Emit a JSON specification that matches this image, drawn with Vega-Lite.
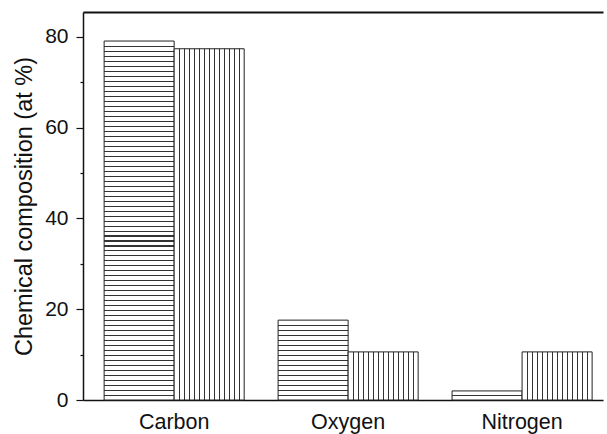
{
  "$schema": "https://vega.github.io/schema/vega-lite/v6.json",
  "autosize": "none",
  "width": 520,
  "height": 388,
  "padding": {"left": 83, "top": 12, "right": 4, "bottom": 34},
  "background": "white",
  "config": {
    "view": {"stroke": null},
    "axis": {"grid": false, "domainColor": "#111", "tickColor": "#111", "labelColor": "#111", "titleColor": "#111", "labelFont": "Liberation Sans", "titleFont": "Liberation Sans", "domainWidth": 1.5, "tickWidth": 1.2}
  },
  "data": {"values": [
    {"el": "Carbon", "s": "A", "v": 79.1},
    {"el": "Carbon", "s": "B", "v": 77.4},
    {"el": "Oxygen", "s": "A", "v": 17.6},
    {"el": "Oxygen", "s": "B", "v": 10.6},
    {"el": "Nitrogen", "s": "A", "v": 2.0},
    {"el": "Nitrogen", "s": "B", "v": 10.6}
  ]},
  "layer": [
    {
      "mark": {"type": "bar", "stroke": "#222", "strokeWidth": 1},
      "encoding": {
        "x": {"field": "el", "type": "nominal", "sort": ["Carbon", "Oxygen", "Nitrogen"],
          "scale": {"paddingInner": 0.195, "paddingOuter": 0.092, "align": 0.66},
          "axis": {"orient": "bottom", "title": null, "ticks": false, "labelAngle": 0, "labelFontSize": 21.5, "labelPadding": 11}},
        "xOffset": {"field": "s", "type": "nominal", "scale": {"paddingInner": 0, "paddingOuter": 0}},
        "y": {"field": "v", "type": "quantitative", "scale": {"domain": [0, 85.5], "nice": false},
          "axis": {"title": "Chemical composition (at %)", "titleFontSize": 23.5, "titleFontWeight": "normal", "titlePadding": 8,
            "values": [0, 10, 20, 30, 40, 50, 60, 70, 80],
            "labelExpr": "datum.value % 20 === 0 ? datum.label : ''",
            "tickSize": {"condition": {"test": "datum.value % 20 === 0", "value": 7}, "value": 3},
            "labelFontSize": 21, "labelPadding": 8}},
        "fill": {
          "condition": [
            {"test": "datum.s === 'B'", "value": {"gradient": "linear", "x1": 0, "y1": 0, "x2": 1, "y2": 0, "stops": [
              {"offset": 0, "color": "#fff"},
              {"offset": 0.0714, "color": "#fff"}, {"offset": 0.0714, "color": "#333"}, {"offset": 0.0857, "color": "#333"}, {"offset": 0.0857, "color": "#fff"},
              {"offset": 0.1429, "color": "#fff"}, {"offset": 0.1429, "color": "#333"}, {"offset": 0.1572, "color": "#333"}, {"offset": 0.1572, "color": "#fff"},
              {"offset": 0.2143, "color": "#fff"}, {"offset": 0.2143, "color": "#333"}, {"offset": 0.2286, "color": "#333"}, {"offset": 0.2286, "color": "#fff"},
              {"offset": 0.2857, "color": "#fff"}, {"offset": 0.2857, "color": "#333"}, {"offset": 0.3, "color": "#333"}, {"offset": 0.3, "color": "#fff"},
              {"offset": 0.3571, "color": "#fff"}, {"offset": 0.3571, "color": "#333"}, {"offset": 0.3714, "color": "#333"}, {"offset": 0.3714, "color": "#fff"},
              {"offset": 0.4286, "color": "#fff"}, {"offset": 0.4286, "color": "#333"}, {"offset": 0.4429, "color": "#333"}, {"offset": 0.4429, "color": "#fff"},
              {"offset": 0.5, "color": "#fff"}, {"offset": 0.5, "color": "#333"}, {"offset": 0.5143, "color": "#333"}, {"offset": 0.5143, "color": "#fff"},
              {"offset": 0.5714, "color": "#fff"}, {"offset": 0.5714, "color": "#333"}, {"offset": 0.5857, "color": "#333"}, {"offset": 0.5857, "color": "#fff"},
              {"offset": 0.6429, "color": "#fff"}, {"offset": 0.6429, "color": "#333"}, {"offset": 0.6572, "color": "#333"}, {"offset": 0.6572, "color": "#fff"},
              {"offset": 0.7143, "color": "#fff"}, {"offset": 0.7143, "color": "#333"}, {"offset": 0.7286, "color": "#333"}, {"offset": 0.7286, "color": "#fff"},
              {"offset": 0.7857, "color": "#fff"}, {"offset": 0.7857, "color": "#333"}, {"offset": 0.8, "color": "#333"}, {"offset": 0.8, "color": "#fff"},
              {"offset": 0.8571, "color": "#fff"}, {"offset": 0.8571, "color": "#333"}, {"offset": 0.8714, "color": "#333"}, {"offset": 0.8714, "color": "#fff"},
              {"offset": 0.9286, "color": "#fff"}, {"offset": 0.9286, "color": "#333"}, {"offset": 0.9429, "color": "#333"}, {"offset": 0.9429, "color": "#fff"},
              {"offset": 1, "color": "#fff"}
            ]}},
            {"test": "datum.el === 'Carbon'", "value": {"gradient": "linear", "x1": 0, "y1": 0, "x2": 0, "y2": 1, "stops": [
              {"offset": 0, "color": "#fff"},
              {"offset": 0.0139, "color": "#fff"}, {"offset": 0.0139, "color": "#333"}, {"offset": 0.0169, "color": "#333"}, {"offset": 0.0169, "color": "#fff"},
              {"offset": 0.0278, "color": "#fff"}, {"offset": 0.0278, "color": "#333"}, {"offset": 0.0308, "color": "#333"}, {"offset": 0.0308, "color": "#fff"},
              {"offset": 0.0417, "color": "#fff"}, {"offset": 0.0417, "color": "#333"}, {"offset": 0.0447, "color": "#333"}, {"offset": 0.0447, "color": "#fff"},
              {"offset": 0.0556, "color": "#fff"}, {"offset": 0.0556, "color": "#333"}, {"offset": 0.0586, "color": "#333"}, {"offset": 0.0586, "color": "#fff"},
              {"offset": 0.0694, "color": "#fff"}, {"offset": 0.0694, "color": "#333"}, {"offset": 0.0724, "color": "#333"}, {"offset": 0.0724, "color": "#fff"},
              {"offset": 0.0833, "color": "#fff"}, {"offset": 0.0833, "color": "#333"}, {"offset": 0.0863, "color": "#333"}, {"offset": 0.0863, "color": "#fff"},
              {"offset": 0.0972, "color": "#fff"}, {"offset": 0.0972, "color": "#333"}, {"offset": 0.1002, "color": "#333"}, {"offset": 0.1002, "color": "#fff"},
              {"offset": 0.1111, "color": "#fff"}, {"offset": 0.1111, "color": "#333"}, {"offset": 0.1141, "color": "#333"}, {"offset": 0.1141, "color": "#fff"},
              {"offset": 0.125, "color": "#fff"}, {"offset": 0.125, "color": "#333"}, {"offset": 0.128, "color": "#333"}, {"offset": 0.128, "color": "#fff"},
              {"offset": 0.1389, "color": "#fff"}, {"offset": 0.1389, "color": "#333"}, {"offset": 0.1419, "color": "#333"}, {"offset": 0.1419, "color": "#fff"},
              {"offset": 0.1528, "color": "#fff"}, {"offset": 0.1528, "color": "#333"}, {"offset": 0.1558, "color": "#333"}, {"offset": 0.1558, "color": "#fff"},
              {"offset": 0.1667, "color": "#fff"}, {"offset": 0.1667, "color": "#333"}, {"offset": 0.1697, "color": "#333"}, {"offset": 0.1697, "color": "#fff"},
              {"offset": 0.1806, "color": "#fff"}, {"offset": 0.1806, "color": "#333"}, {"offset": 0.1836, "color": "#333"}, {"offset": 0.1836, "color": "#fff"},
              {"offset": 0.1944, "color": "#fff"}, {"offset": 0.1944, "color": "#333"}, {"offset": 0.1974, "color": "#333"}, {"offset": 0.1974, "color": "#fff"},
              {"offset": 0.2083, "color": "#fff"}, {"offset": 0.2083, "color": "#333"}, {"offset": 0.2113, "color": "#333"}, {"offset": 0.2113, "color": "#fff"},
              {"offset": 0.2222, "color": "#fff"}, {"offset": 0.2222, "color": "#333"}, {"offset": 0.2252, "color": "#333"}, {"offset": 0.2252, "color": "#fff"},
              {"offset": 0.2361, "color": "#fff"}, {"offset": 0.2361, "color": "#333"}, {"offset": 0.2391, "color": "#333"}, {"offset": 0.2391, "color": "#fff"},
              {"offset": 0.25, "color": "#fff"}, {"offset": 0.25, "color": "#333"}, {"offset": 0.253, "color": "#333"}, {"offset": 0.253, "color": "#fff"},
              {"offset": 0.2639, "color": "#fff"}, {"offset": 0.2639, "color": "#333"}, {"offset": 0.2669, "color": "#333"}, {"offset": 0.2669, "color": "#fff"},
              {"offset": 0.2778, "color": "#fff"}, {"offset": 0.2778, "color": "#333"}, {"offset": 0.2808, "color": "#333"}, {"offset": 0.2808, "color": "#fff"},
              {"offset": 0.2917, "color": "#fff"}, {"offset": 0.2917, "color": "#333"}, {"offset": 0.2947, "color": "#333"}, {"offset": 0.2947, "color": "#fff"},
              {"offset": 0.3056, "color": "#fff"}, {"offset": 0.3056, "color": "#333"}, {"offset": 0.3086, "color": "#333"}, {"offset": 0.3086, "color": "#fff"},
              {"offset": 0.3194, "color": "#fff"}, {"offset": 0.3194, "color": "#333"}, {"offset": 0.3224, "color": "#333"}, {"offset": 0.3224, "color": "#fff"},
              {"offset": 0.3333, "color": "#fff"}, {"offset": 0.3333, "color": "#333"}, {"offset": 0.3363, "color": "#333"}, {"offset": 0.3363, "color": "#fff"},
              {"offset": 0.3472, "color": "#fff"}, {"offset": 0.3472, "color": "#333"}, {"offset": 0.3502, "color": "#333"}, {"offset": 0.3502, "color": "#fff"},
              {"offset": 0.3611, "color": "#fff"}, {"offset": 0.3611, "color": "#333"}, {"offset": 0.3641, "color": "#333"}, {"offset": 0.3641, "color": "#fff"},
              {"offset": 0.375, "color": "#fff"}, {"offset": 0.375, "color": "#333"}, {"offset": 0.378, "color": "#333"}, {"offset": 0.378, "color": "#fff"},
              {"offset": 0.3889, "color": "#fff"}, {"offset": 0.3889, "color": "#333"}, {"offset": 0.3919, "color": "#333"}, {"offset": 0.3919, "color": "#fff"},
              {"offset": 0.4028, "color": "#fff"}, {"offset": 0.4028, "color": "#333"}, {"offset": 0.4058, "color": "#333"}, {"offset": 0.4058, "color": "#fff"},
              {"offset": 0.4167, "color": "#fff"}, {"offset": 0.4167, "color": "#333"}, {"offset": 0.4197, "color": "#333"}, {"offset": 0.4197, "color": "#fff"},
              {"offset": 0.4306, "color": "#fff"}, {"offset": 0.4306, "color": "#333"}, {"offset": 0.4336, "color": "#333"}, {"offset": 0.4336, "color": "#fff"},
              {"offset": 0.4444, "color": "#fff"}, {"offset": 0.4444, "color": "#333"}, {"offset": 0.4474, "color": "#333"}, {"offset": 0.4474, "color": "#fff"},
              {"offset": 0.4583, "color": "#fff"}, {"offset": 0.4583, "color": "#333"}, {"offset": 0.4613, "color": "#333"}, {"offset": 0.4613, "color": "#fff"},
              {"offset": 0.4722, "color": "#fff"}, {"offset": 0.4722, "color": "#333"}, {"offset": 0.4752, "color": "#333"}, {"offset": 0.4752, "color": "#fff"},
              {"offset": 0.4861, "color": "#fff"}, {"offset": 0.4861, "color": "#333"}, {"offset": 0.4891, "color": "#333"}, {"offset": 0.4891, "color": "#fff"},
              {"offset": 0.5, "color": "#fff"}, {"offset": 0.5, "color": "#333"}, {"offset": 0.503, "color": "#333"}, {"offset": 0.503, "color": "#fff"},
              {"offset": 0.5139, "color": "#fff"}, {"offset": 0.5139, "color": "#333"}, {"offset": 0.5169, "color": "#333"}, {"offset": 0.5169, "color": "#fff"},
              {"offset": 0.5278, "color": "#fff"}, {"offset": 0.5278, "color": "#333"}, {"offset": 0.5308, "color": "#333"}, {"offset": 0.5308, "color": "#fff"},
              {"offset": 0.5417, "color": "#fff"}, {"offset": 0.5417, "color": "#333"}, {"offset": 0.5447, "color": "#333"}, {"offset": 0.5447, "color": "#fff"},
              {"offset": 0.5556, "color": "#fff"}, {"offset": 0.5556, "color": "#333"}, {"offset": 0.5586, "color": "#333"}, {"offset": 0.5586, "color": "#fff"},
              {"offset": 0.5694, "color": "#fff"}, {"offset": 0.5694, "color": "#333"}, {"offset": 0.5724, "color": "#333"}, {"offset": 0.5724, "color": "#fff"},
              {"offset": 0.5833, "color": "#fff"}, {"offset": 0.5833, "color": "#333"}, {"offset": 0.5863, "color": "#333"}, {"offset": 0.5863, "color": "#fff"},
              {"offset": 0.5972, "color": "#fff"}, {"offset": 0.5972, "color": "#333"}, {"offset": 0.6002, "color": "#333"}, {"offset": 0.6002, "color": "#fff"},
              {"offset": 0.6111, "color": "#fff"}, {"offset": 0.6111, "color": "#333"}, {"offset": 0.6141, "color": "#333"}, {"offset": 0.6141, "color": "#fff"},
              {"offset": 0.625, "color": "#fff"}, {"offset": 0.625, "color": "#333"}, {"offset": 0.628, "color": "#333"}, {"offset": 0.628, "color": "#fff"},
              {"offset": 0.6389, "color": "#fff"}, {"offset": 0.6389, "color": "#333"}, {"offset": 0.6419, "color": "#333"}, {"offset": 0.6419, "color": "#fff"},
              {"offset": 0.6528, "color": "#fff"}, {"offset": 0.6528, "color": "#333"}, {"offset": 0.6558, "color": "#333"}, {"offset": 0.6558, "color": "#fff"},
              {"offset": 0.6667, "color": "#fff"}, {"offset": 0.6667, "color": "#333"}, {"offset": 0.6697, "color": "#333"}, {"offset": 0.6697, "color": "#fff"},
              {"offset": 0.6806, "color": "#fff"}, {"offset": 0.6806, "color": "#333"}, {"offset": 0.6836, "color": "#333"}, {"offset": 0.6836, "color": "#fff"},
              {"offset": 0.6944, "color": "#fff"}, {"offset": 0.6944, "color": "#333"}, {"offset": 0.6974, "color": "#333"}, {"offset": 0.6974, "color": "#fff"},
              {"offset": 0.7083, "color": "#fff"}, {"offset": 0.7083, "color": "#333"}, {"offset": 0.7113, "color": "#333"}, {"offset": 0.7113, "color": "#fff"},
              {"offset": 0.7222, "color": "#fff"}, {"offset": 0.7222, "color": "#333"}, {"offset": 0.7252, "color": "#333"}, {"offset": 0.7252, "color": "#fff"},
              {"offset": 0.7361, "color": "#fff"}, {"offset": 0.7361, "color": "#333"}, {"offset": 0.7391, "color": "#333"}, {"offset": 0.7391, "color": "#fff"},
              {"offset": 0.75, "color": "#fff"}, {"offset": 0.75, "color": "#333"}, {"offset": 0.753, "color": "#333"}, {"offset": 0.753, "color": "#fff"},
              {"offset": 0.7639, "color": "#fff"}, {"offset": 0.7639, "color": "#333"}, {"offset": 0.7669, "color": "#333"}, {"offset": 0.7669, "color": "#fff"},
              {"offset": 0.7778, "color": "#fff"}, {"offset": 0.7778, "color": "#333"}, {"offset": 0.7808, "color": "#333"}, {"offset": 0.7808, "color": "#fff"},
              {"offset": 0.7917, "color": "#fff"}, {"offset": 0.7917, "color": "#333"}, {"offset": 0.7947, "color": "#333"}, {"offset": 0.7947, "color": "#fff"},
              {"offset": 0.8056, "color": "#fff"}, {"offset": 0.8056, "color": "#333"}, {"offset": 0.8086, "color": "#333"}, {"offset": 0.8086, "color": "#fff"},
              {"offset": 0.8194, "color": "#fff"}, {"offset": 0.8194, "color": "#333"}, {"offset": 0.8224, "color": "#333"}, {"offset": 0.8224, "color": "#fff"},
              {"offset": 0.8333, "color": "#fff"}, {"offset": 0.8333, "color": "#333"}, {"offset": 0.8363, "color": "#333"}, {"offset": 0.8363, "color": "#fff"},
              {"offset": 0.8472, "color": "#fff"}, {"offset": 0.8472, "color": "#333"}, {"offset": 0.8502, "color": "#333"}, {"offset": 0.8502, "color": "#fff"},
              {"offset": 0.8611, "color": "#fff"}, {"offset": 0.8611, "color": "#333"}, {"offset": 0.8641, "color": "#333"}, {"offset": 0.8641, "color": "#fff"},
              {"offset": 0.875, "color": "#fff"}, {"offset": 0.875, "color": "#333"}, {"offset": 0.878, "color": "#333"}, {"offset": 0.878, "color": "#fff"},
              {"offset": 0.8889, "color": "#fff"}, {"offset": 0.8889, "color": "#333"}, {"offset": 0.8919, "color": "#333"}, {"offset": 0.8919, "color": "#fff"},
              {"offset": 0.9028, "color": "#fff"}, {"offset": 0.9028, "color": "#333"}, {"offset": 0.9058, "color": "#333"}, {"offset": 0.9058, "color": "#fff"},
              {"offset": 0.9167, "color": "#fff"}, {"offset": 0.9167, "color": "#333"}, {"offset": 0.9197, "color": "#333"}, {"offset": 0.9197, "color": "#fff"},
              {"offset": 0.9306, "color": "#fff"}, {"offset": 0.9306, "color": "#333"}, {"offset": 0.9336, "color": "#333"}, {"offset": 0.9336, "color": "#fff"},
              {"offset": 0.9444, "color": "#fff"}, {"offset": 0.9444, "color": "#333"}, {"offset": 0.9474, "color": "#333"}, {"offset": 0.9474, "color": "#fff"},
              {"offset": 0.9583, "color": "#fff"}, {"offset": 0.9583, "color": "#333"}, {"offset": 0.9613, "color": "#333"}, {"offset": 0.9613, "color": "#fff"},
              {"offset": 0.9722, "color": "#fff"}, {"offset": 0.9722, "color": "#333"}, {"offset": 0.9752, "color": "#333"}, {"offset": 0.9752, "color": "#fff"},
              {"offset": 0.9861, "color": "#fff"}, {"offset": 0.9861, "color": "#333"}, {"offset": 0.9891, "color": "#333"}, {"offset": 0.9891, "color": "#fff"},
              {"offset": 1, "color": "#fff"}
            ]}},
            {"test": "datum.el === 'Oxygen'", "value": {"gradient": "linear", "x1": 0, "y1": 0, "x2": 0, "y2": 1, "stops": [
              {"offset": 0, "color": "#fff"},
              {"offset": 0.0625, "color": "#fff"}, {"offset": 0.0625, "color": "#333"}, {"offset": 0.075, "color": "#333"}, {"offset": 0.075, "color": "#fff"},
              {"offset": 0.125, "color": "#fff"}, {"offset": 0.125, "color": "#333"}, {"offset": 0.1375, "color": "#333"}, {"offset": 0.1375, "color": "#fff"},
              {"offset": 0.1875, "color": "#fff"}, {"offset": 0.1875, "color": "#333"}, {"offset": 0.2, "color": "#333"}, {"offset": 0.2, "color": "#fff"},
              {"offset": 0.25, "color": "#fff"}, {"offset": 0.25, "color": "#333"}, {"offset": 0.2625, "color": "#333"}, {"offset": 0.2625, "color": "#fff"},
              {"offset": 0.3125, "color": "#fff"}, {"offset": 0.3125, "color": "#333"}, {"offset": 0.325, "color": "#333"}, {"offset": 0.325, "color": "#fff"},
              {"offset": 0.375, "color": "#fff"}, {"offset": 0.375, "color": "#333"}, {"offset": 0.3875, "color": "#333"}, {"offset": 0.3875, "color": "#fff"},
              {"offset": 0.4375, "color": "#fff"}, {"offset": 0.4375, "color": "#333"}, {"offset": 0.45, "color": "#333"}, {"offset": 0.45, "color": "#fff"},
              {"offset": 0.5, "color": "#fff"}, {"offset": 0.5, "color": "#333"}, {"offset": 0.5125, "color": "#333"}, {"offset": 0.5125, "color": "#fff"},
              {"offset": 0.5625, "color": "#fff"}, {"offset": 0.5625, "color": "#333"}, {"offset": 0.575, "color": "#333"}, {"offset": 0.575, "color": "#fff"},
              {"offset": 0.625, "color": "#fff"}, {"offset": 0.625, "color": "#333"}, {"offset": 0.6375, "color": "#333"}, {"offset": 0.6375, "color": "#fff"},
              {"offset": 0.6875, "color": "#fff"}, {"offset": 0.6875, "color": "#333"}, {"offset": 0.7, "color": "#333"}, {"offset": 0.7, "color": "#fff"},
              {"offset": 0.75, "color": "#fff"}, {"offset": 0.75, "color": "#333"}, {"offset": 0.7625, "color": "#333"}, {"offset": 0.7625, "color": "#fff"},
              {"offset": 0.8125, "color": "#fff"}, {"offset": 0.8125, "color": "#333"}, {"offset": 0.825, "color": "#333"}, {"offset": 0.825, "color": "#fff"},
              {"offset": 0.875, "color": "#fff"}, {"offset": 0.875, "color": "#333"}, {"offset": 0.8875, "color": "#333"}, {"offset": 0.8875, "color": "#fff"},
              {"offset": 0.9375, "color": "#fff"}, {"offset": 0.9375, "color": "#333"}, {"offset": 0.95, "color": "#333"}, {"offset": 0.95, "color": "#fff"},
              {"offset": 1, "color": "#fff"}
            ]}}
          ],
          "value": {"gradient": "linear", "x1": 0, "y1": 0, "x2": 0, "y2": 1, "stops": [
            {"offset": 0, "color": "#fff"},
            {"offset": 0.45, "color": "#fff"}, {"offset": 0.45, "color": "#333"}, {"offset": 0.56, "color": "#333"}, {"offset": 0.56, "color": "#fff"},
            {"offset": 1, "color": "#fff"}
          ]}
        }
      }
    },
    {
      "mark": {"type": "bar", "opacity": 0},
      "encoding": {
        "x": {"field": "el", "type": "nominal", "sort": ["Carbon", "Oxygen", "Nitrogen"],
          "axis": {"orient": "top", "title": null, "ticks": false, "labels": false, "domainWidth": 2}},
        "xOffset": {"field": "s", "type": "nominal"},
        "y": {"field": "v", "type": "quantitative",
          "axis": {"title": "Chemical composition (at %)", "titleFontSize": 23.5, "titleFontWeight": "normal", "titlePadding": 8,
            "values": [0, 10, 20, 30, 40, 50, 60, 70, 80],
            "labelExpr": "datum.value % 20 === 0 ? datum.label : ''",
            "tickSize": {"condition": {"test": "datum.value % 20 === 0", "value": 7}, "value": 3},
            "labelFontSize": 21, "labelPadding": 8}}
      }
    }
  ],
  "resolve": {"axis": {"x": "independent"}}
}
